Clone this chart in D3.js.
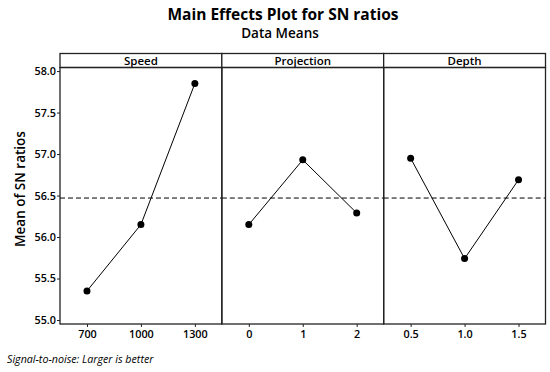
<!DOCTYPE html>
<html>
<head>
<meta charset="utf-8">
<script src="https://cdn.jsdelivr.net/npm/d3@7"></script>
<style>
  body { margin: 0; background: #fff; }
  text { font-family: "Open Sans", "Noto Sans", sans-serif; fill: #000; }
</style>
</head>
<body>
<script>
// factors and their levels
const factors = ["Speed", "Projection", "Depth"];
const speedLevels = ["700", "1000", "1300"];
const projectionLevels = ["0", "1", "2"];
const depthLevels = ["0.5", "1.0", "1.5"];

// mean SN ratio at each level
const speedMeans = [55.35, 56.15, 57.85];
const projectionMeans = [56.15, 56.93, 56.29];
const depthMeans = [56.95, 55.74, 56.69];

const grandMean = 56.47;
const yTicks = [55.0, 55.5, 56.0, 56.5, 57.0, 57.5, 58.0];

let width = 550,
  height = 372,
  marginLeft = 60,
  marginRight = 4.5,
  stripTop = 53.5,
  stripHeight = 14,
  plotBottom = 324;

let panels = [
  { name: factors[0], levels: speedLevels, means: speedMeans },
  { name: factors[1], levels: projectionLevels, means: projectionMeans },
  { name: factors[2], levels: depthLevels, means: depthMeans }
];

let svg = d3.select("body").append("svg")
  .attr("width", width)
  .attr("height", height);

// titles
svg.append("text")
  .attr("x", 283)
  .attr("y", 20)
  .attr("text-anchor", "middle")
  .style("font-size", "15.5px")
  .style("font-weight", "bold")
  .text("Main Effects Plot for SN ratios");

svg.append("text")
  .attr("x", 280)
  .attr("y", 37.5)
  .attr("text-anchor", "middle")
  .style("font-size", "13.5px")
  .style("font-weight", "600")
  .text("Data Means");

let plotTop = stripTop + stripHeight;
let panelWidth = (width - marginRight - marginLeft) / panels.length;

let yScale = d3.scaleLinear()
  .domain([54.952, 58.043])
  .range([plotBottom, plotTop]);

// y axis
let yAxis = d3.axisLeft(yScale)
  .tickValues(yTicks)
  .tickFormat(d3.format(".1f"))
  .tickSize(3)
  .tickSizeOuter(0);

let yG = svg.append("g")
  .attr("transform", "translate(" + marginLeft + ",0)")
  .call(yAxis);
yG.select(".domain").remove();
yG.selectAll("text")
  .attr("x", -4)
  .style("font-size", "10.8px")
  .style("font-weight", "600")
  .style("font-family", "'Open Sans', sans-serif");
yG.selectAll("line").attr("stroke", "#222");

svg.append("text")
  .attr("transform", "translate(24.5," + 189 + ") rotate(-90)")
  .attr("text-anchor", "middle")
  .style("font-size", "13.5px")
  .style("font-weight", "600")
  .text("Mean of SN ratios");

let line = d3.line();

panels.forEach((p, i) => {
  let x0 = marginLeft + i * panelWidth;
  let xScale = d3.scalePoint()
    .domain(p.levels)
    .range([x0, x0 + panelWidth])
    .padding(0.5);

  // strip
  svg.append("rect")
    .attr("x", x0)
    .attr("y", stripTop)
    .attr("width", panelWidth)
    .attr("height", stripHeight)
    .attr("fill", "#fff")
    .attr("stroke", "#222")
    .attr("stroke-width", 1.3);

  svg.append("text")
    .attr("x", x0 + panelWidth / 2)
    .attr("y", stripTop + 11)
    .attr("text-anchor", "middle")
    .style("font-size", "11.5px")
    .style("font-weight", "600")
    .text(p.name);

  // x axis
  let xAxis = d3.axisBottom(xScale)
    .tickSize(3)
    .tickSizeOuter(0);
  let xG = svg.append("g")
    .attr("transform", "translate(0," + plotBottom + ")")
    .call(xAxis);
  xG.select(".domain").remove();
  xG.selectAll("line").attr("stroke", "#222");
  xG.selectAll("text")
    .attr("y", 6)
    .style("font-size", "10.8px")
    .style("font-weight", "600")
    .style("font-family", "'Open Sans', sans-serif");

  // reference line at grand mean
  svg.append("line")
    .attr("x1", x0)
    .attr("x2", x0 + panelWidth)
    .attr("y1", yScale(grandMean))
    .attr("y2", yScale(grandMean))
    .attr("stroke", "#000")
    .attr("stroke-width", 1)
    .attr("stroke-dasharray", "5,3");

  let pts = p.levels.map((l, j) => [xScale(l), yScale(p.means[j])]);

  svg.append("path")
    .attr("d", line(pts))
    .attr("fill", "none")
    .attr("stroke", "#000")
    .attr("stroke-width", 1);

  svg.append("g")
    .selectAll("circle")
    .data(pts)
    .enter()
    .append("circle")
    .attr("cx", d => d[0])
    .attr("cy", d => d[1])
    .attr("r", 3.5)
    .attr("fill", "#000");

  // panel frame
  svg.append("rect")
    .attr("x", x0)
    .attr("y", plotTop)
    .attr("width", panelWidth)
    .attr("height", plotBottom - plotTop)
    .attr("fill", "none")
    .attr("stroke", "#222")
    .attr("stroke-width", 1.3);
});

// footnote
svg.append("text")
  .attr("x", 7)
  .attr("y", 363)
  .style("font-size", "10.7px")
  .style("font-style", "italic")
  .text("Signal-to-noise: Larger is better");
</script>
</body>
</html>
